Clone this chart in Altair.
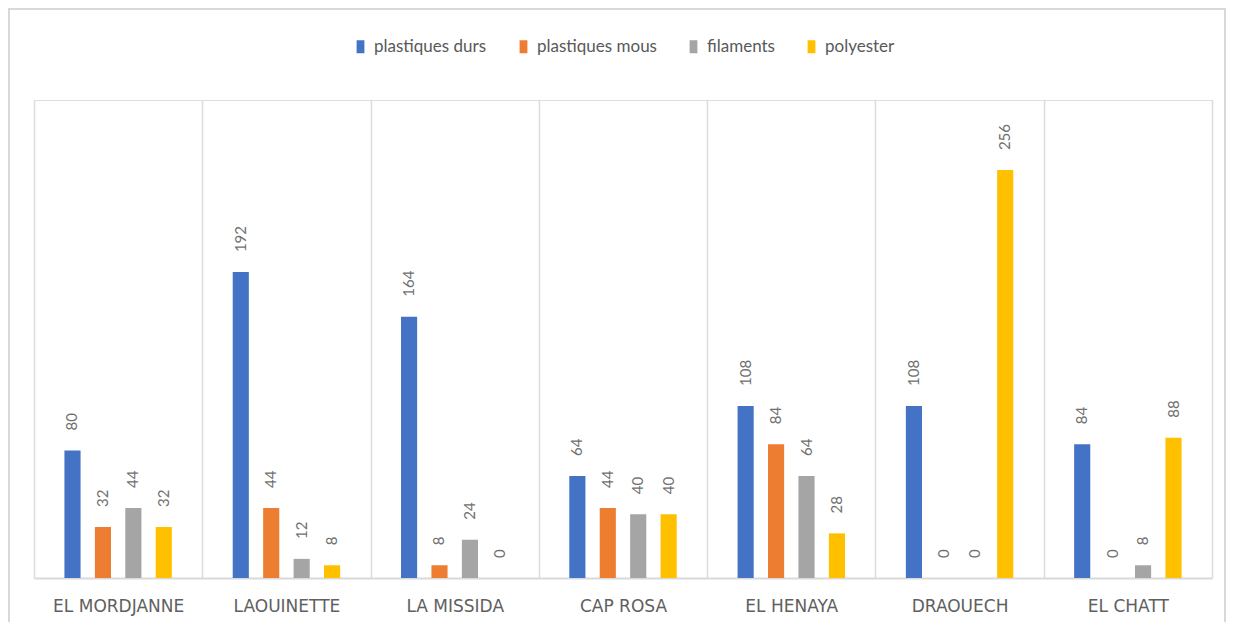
import altair as alt
import pandas as pd

categories = ["EL MORDJANNE", "LAOUINETTE", "LA MISSIDA", "CAP ROSA", "EL HENAYA", "DRAOUECH", "EL CHATT"]
series_names = ["plastiques durs", "plastiques mous", "filaments", "polyester"]
plastiques_durs = [80, 192, 164, 64, 108, 108, 84]
plastiques_mous = [32, 44, 8, 44, 84, 0, 0]
filaments = [44, 12, 24, 40, 64, 0, 8]
polyester = [32, 8, 0, 40, 28, 256, 88]
colors = ["#4472C4", "#ED7D31", "#A5A5A5", "#FFC000"]

rows = []
for s, vals in zip(series_names, [plastiques_durs, plastiques_mous, filaments, polyester]):
    for c, v in zip(categories, vals):
        rows.append({"site": c, "serie": s, "valeur": v})
df = pd.DataFrame(rows)

W, H = 1178, 478
x_scale = alt.Scale(domain=categories, paddingInner=0, paddingOuter=0)
y_scale = alt.Scale(domain=[0, 300])

base = alt.Chart(df)

bars = base.mark_bar().encode(
    x=alt.X("site:N", scale=x_scale, sort=categories,
            axis=alt.Axis(title=None, labelAngle=0, labelAlign="center", ticks=False,
                          domainColor="#d9d9d9", domainWidth=2, labelPadding=20,
                          labelFont="DejaVu Sans", labelFontSize=17, labelColor="#606060",
                          grid=True, tickBand="extent", gridColor="#dcdcdc", gridWidth=1.5)),
    xOffset=alt.XOffset("serie:N", sort=series_names,
                        scale=alt.Scale(domain=series_names, paddingInner=0.47, paddingOuter=1)),
    y=alt.Y("valeur:Q", scale=y_scale,
            axis=alt.Axis(title=None, labels=False, ticks=False, grid=False, domain=False)),
    color=alt.Color("serie:N", scale=alt.Scale(domain=series_names, range=colors),
                    legend=alt.Legend(title=None, orient="none", legendX=318, legendY=-62,
                                      direction="horizontal",
                                      symbolType="M-0.6,-1H0.6V1H-0.6Z", symbolSize=169,
                                      symbolStrokeWidth=0,
                                      labelFont="Lato", labelFontSize=17, labelColor="#595959",
                                      labelOffset=5, columnPadding=28)),
)

labels = base.mark_text(angle=270, align="left", baseline="middle", dx=20,
                        font="Lato", fontSize=15, color="#707070").encode(
    x=alt.X("site:N", scale=x_scale, sort=categories),
    xOffset=alt.XOffset("serie:N", sort=series_names),
    y=alt.Y("valeur:Q", scale=y_scale),
    text=alt.Text("valeur:Q"),
)

frame = alt.Chart(pd.DataFrame({"a": [0]})).mark_rect(
    fill=None, stroke="#d9d9d9", strokeWidth=2).encode(
    x=alt.value(-25), x2=alt.value(W + 13),
    y=alt.value(-91), y2=alt.value(H + 80),
)

chart = alt.layer(bars, labels, frame).properties(
    width=W, height=H,
    autosize=alt.AutoSizeParams(type="none"),
    padding={"left": 26, "top": 92, "right": 15, "bottom": 44},
).configure_view(stroke=None).configure(background="white")

chart.save("out.html", embed_options={"renderer": "svg", "actions": False})
